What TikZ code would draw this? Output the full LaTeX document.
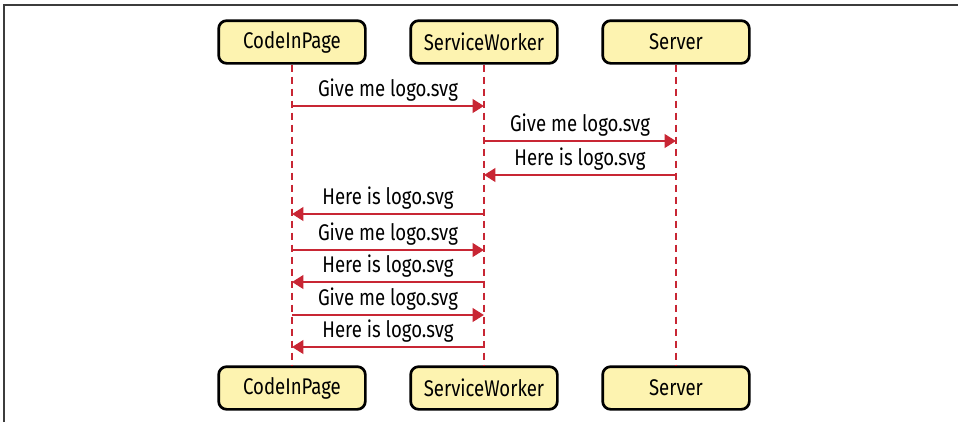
\documentclass[tikz,border=0pt]{standalone}
\usepackage{fontspec}
\setmainfont{Fira Sans}[FakeStretch=0.82]
\usetikzlibrary{arrows.meta}

\definecolor{msgred}{RGB}{200,38,52}
\definecolor{boxfill}{RGB}{253,243,176}
\definecolor{framegray}{RGB}{60,60,60}

\tikzset{every picture/.style={line width=0.75pt}}
\tikzset{
  actor/.style={draw=black, fill=boxfill, line width=2pt, rounded corners=6pt,
    minimum width=110pt, minimum height=32pt, inner sep=0pt,
    font=\fontsize{17}{19}\selectfont},
  lifeline/.style={draw=msgred, line width=2pt, dash pattern=on 5.5pt off 3.5pt},
  msg/.style={draw=msgred, line width=2.1pt, -{Triangle[length=8.5pt,width=10pt]}},
  msglabel/.style={above=2.5pt, inner sep=0pt, font=\fontsize{17}{19}\selectfont}
}

\begin{document}
\begin{tikzpicture}[x=0.75pt,y=0.75pt,yscale=-1,xscale=1]
\useasboundingbox (0,0) rectangle (958,422);

% Frame
\draw [framegray, line width=1.5pt] (4,422) -- (4,5) -- (958,5) ;

% Participants top
\node [actor] (cipTop) at (292,42) {CodeInPage};
\node [actor] (swTop) at (484,42) {ServiceWorker};
\node [actor] (srvTop) at (676,42) {Server};
% Participants bottom
\node [actor] (cipBot) at (292,388) {CodeInPage};
\node [actor] (swBot) at (484,388) {ServiceWorker};
\node [actor] (srvBot) at (676,388) {Server};

% Lifelines
\draw [lifeline] (cipTop) -- (cipBot) ;
\draw [lifeline] (swTop) -- (swBot) ;
\draw [lifeline] (srvTop) -- (srvBot) ;

% Messages
\draw [msg] (cipTop |- 0,106) -- node [msglabel] {Give me logo.svg} (swTop |- 0,106) ;
\draw [msg] (swTop |- 0,141) -- node [msglabel] {Give me logo.svg} (srvTop |- 0,141) ;
\draw [msg] (srvTop |- 0,175) -- node [msglabel] {Here is logo.svg} (swTop |- 0,175) ;
\draw [msg] (swTop |- 0,214) -- node [msglabel] {Here is logo.svg} (cipTop |- 0,214) ;
\draw [msg] (cipTop |- 0,250) -- node [msglabel] {Give me logo.svg} (swTop |- 0,250) ;
\draw [msg] (swTop |- 0,282) -- node [msglabel] {Here is logo.svg} (cipTop |- 0,282) ;
\draw [msg] (cipTop |- 0,315) -- node [msglabel] {Give me logo.svg} (swTop |- 0,315) ;
\draw [msg] (swTop |- 0,347) -- node [msglabel] {Here is logo.svg} (cipTop |- 0,347) ;

\end{tikzpicture}
\end{document}
